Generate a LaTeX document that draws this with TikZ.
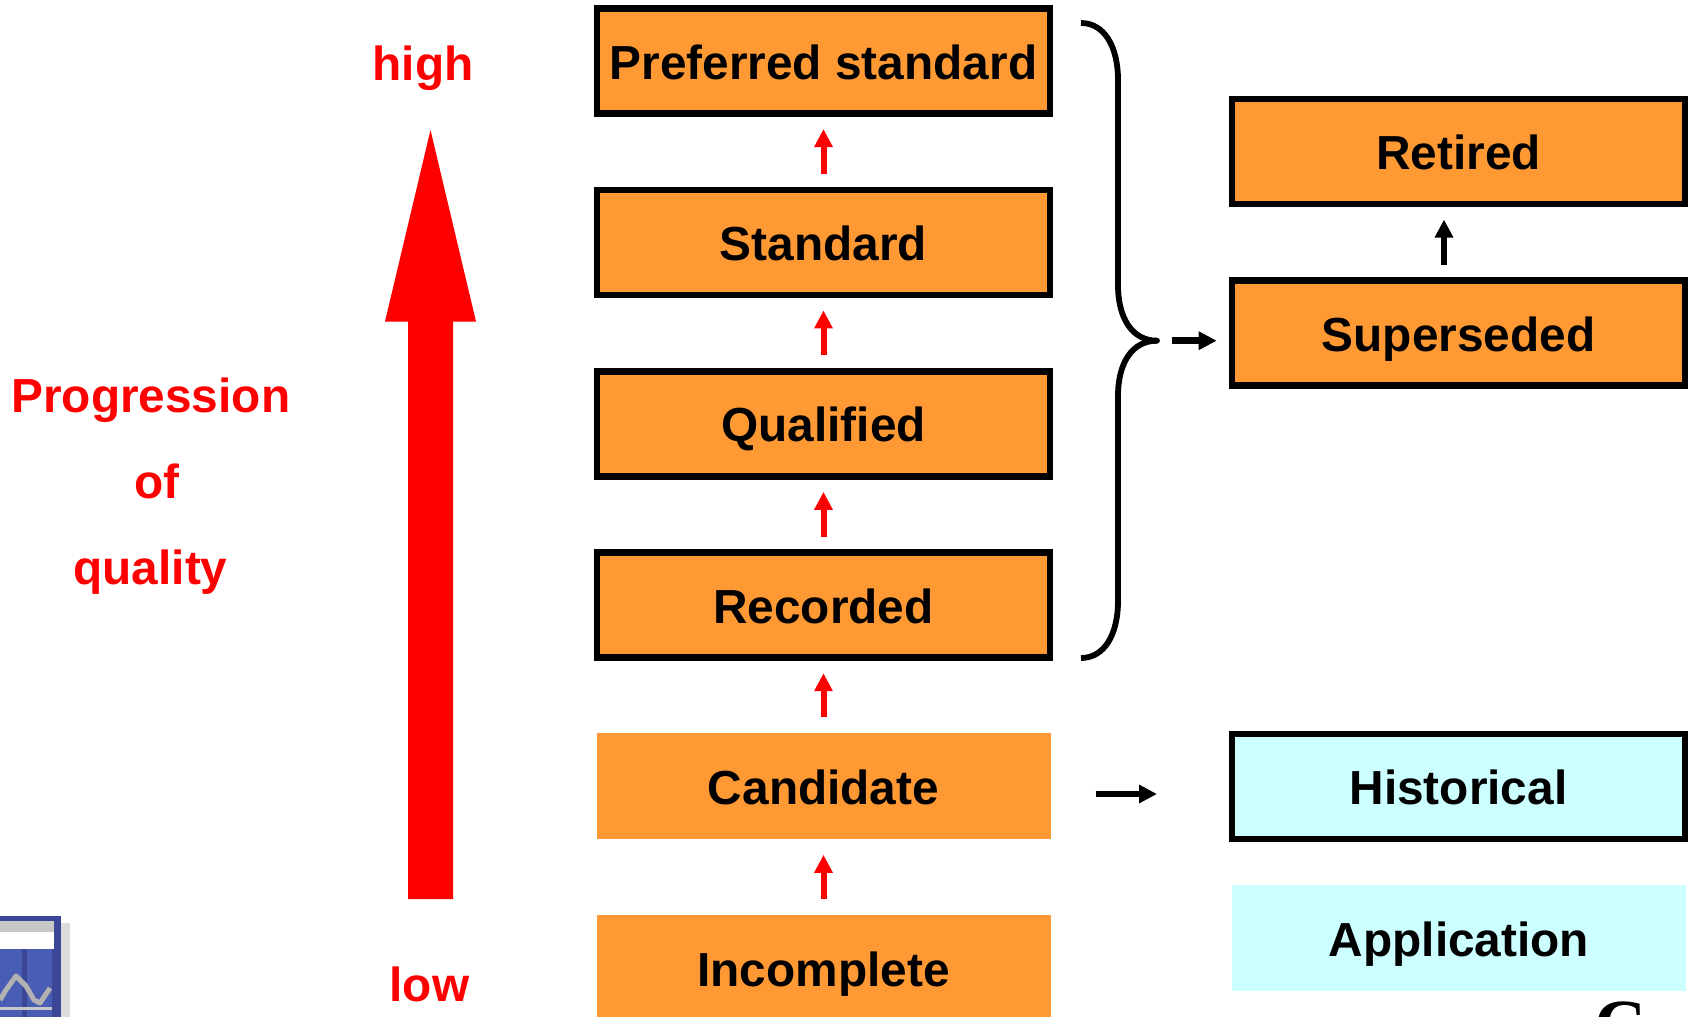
\documentclass[tikz,border=0pt]{standalone}
\usepackage{fontspec}
\setmainfont{Liberation Sans}
\newfontfamily\logofont{Liberation Serif}
\usetikzlibrary{arrows.meta}
\definecolor{boxorange}{HTML}{FF9933}
\definecolor{boxcyan}{HTML}{CCFFFF}
\definecolor{logoblue}{HTML}{4A5DB5}
\definecolor{logodark}{HTML}{3B4796}
\tikzset{
  lbl/.style={font=\fontsize{47.8}{50}\selectfont\bfseries, inner sep=0pt, outer sep=0pt},
  redlbl/.style={lbl, text=red, anchor=base},
  box/.style={lbl, minimum width=453pt, minimum height=105pt, text height=46pt, text depth=10pt},
  framed/.style={box, draw=black, line width=6.6pt},
  orangebox/.style={fill=boxorange},
  cyanbox/.style={fill=boxcyan},
  plain/.style={box, minimum width=454pt, minimum height=106pt},
  smallarrow/.style={line width=6pt, -{Triangle[length=18pt,width=17.5pt]}, shorten >=15.5pt, shorten <=16pt},
  redarrow/.style={smallarrow, draw=red, color=red},
  blackarrow/.style={line width=6.5pt, -{Triangle[length=18pt,width=17.5pt]}, draw=black},
  bracestroke/.style={draw=black, line width=5.8pt, line cap=butt}
}
\begin{document}
\begin{tikzpicture}[x=1pt,y=-1pt]
\useasboundingbox (0,0) rectangle (1692,1017);
\clip (0,0) rectangle (1692,1017);
% boxes
\node[framed,orangebox] (pref) at (823.5,61) {Preferred standard};
\node[framed,orangebox] (std)  at (823.5,242.4) {Standard};
\node[framed,orangebox] (qual) at (823.5,423.8) {Qualified};
\node[framed,orangebox] (rec)  at (823.5,605.2) {Recorded};
\node[plain,orangebox]  (cand) at (823.5,786.3) {Candidate};
\node[plain,orangebox]  (inc)  at (823.5,968) {Incomplete};
\node[framed,orangebox] (ret)  at (1458.5,151.5) {Retired};
\node[framed,orangebox] (sup)  at (1458.5,333) {Superseded};
\node[framed,cyanbox]   (hist) at (1458.5,786.5) {Historical};
\node[plain,cyanbox]    (app)  at (1459,938) {Application};
% red connectors
\draw[redarrow] (std.north) -- (pref.south);
\draw[redarrow] (qual.north) -- (std.south);
\draw[redarrow] (rec.north) -- (qual.south);
\draw[redarrow] (cand.north) -- (rec.south);
\draw[redarrow] (inc.north) -- (cand.south);
% black connectors
\draw[smallarrow,draw=black,color=black] ([xshift=-14.5pt]sup.north) -- ([xshift=-14.5pt]ret.south);
\coordinate (bracetip) at (1157,340.7);
\coordinate (bracearrowend) at (1216.7,340.7);
\draw[blackarrow,shorten <=14.7pt] (bracetip) -- (bracearrowend);
\coordinate (candarrowstart) at (1095.5,794);
\coordinate (candarrowend) at (1157,794);
\draw[blackarrow] (candarrowstart) -- (candarrowend);
% brace
\draw[bracestroke] (1081,23) .. controls (1104,23) and (1118,46) .. (1118,80)
  -- (1118,285) .. controls (1118,318) and (1132,340.7) .. (bracetip);
\draw[bracestroke] (1081,658) .. controls (1104,658) and (1118,635) .. (1118,601)
  -- (1118,396) .. controls (1118,363) and (1132,340.7) .. (bracetip);
\fill (bracetip) circle (2.9pt);
% quality labels and arrow
\node[redlbl] (high) at (423,80) {high};
\node[redlbl] (low) at (429.5,1001) {low};
\node[redlbl] (prog) at (150.8,412) {Progression};
\node[redlbl] (of) at (156.6,498.6) {of};
\node[redlbl] (qty) at (150.5,584) {quality};
\coordinate (bigstart) at (430.5,899);
\coordinate (bigend) at (430.5,130);
\fill[red] ([xshift=-22.5pt]bigstart) -- (408,321.5) -- (385,321.5) -- (bigend)
  -- (476,321.5) -- (453,321.5) -- ([xshift=22.5pt]bigstart) -- cycle;
% logo fragment
\fill[black!14] (60,923) rectangle (70,1017);
\fill[logodark] (0,916) rectangle (61,1017);
\fill[black!22] (0,921) rectangle (54,932);
\fill[white] (0,932) rectangle (54,949);
\fill[logoblue] (0,949) rectangle (22,1017);
\fill[logoblue] (27,949) rectangle (52,1017);
\draw[black!22,line width=3pt] (0,1008) -- (52,1008);
\draw[black!30,line width=5pt,line join=round] (0,1000) -- (6,990) -- (16,976) -- (26,986) -- (34,1000) -- (40,1003) -- (50,988);
% partial mark at lower right
\node[font=\fontsize{72}{72}\selectfont\bfseries\logofont, inner sep=0pt, anchor=base west] (mark) at (1594,1049) {C};
\end{tikzpicture}
\end{document}
